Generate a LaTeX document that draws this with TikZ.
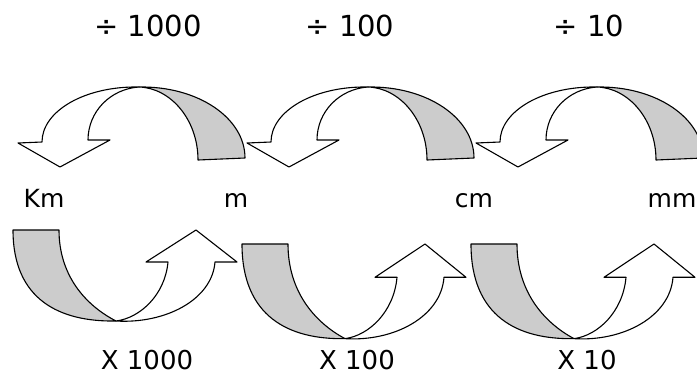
\documentclass[tikz,border=0pt]{standalone}
\usepackage{fontspec}
\setmainfont{DejaVu Sans}
\usepackage{tikz}
\usetikzlibrary{positioning}
\definecolor{bandgray}{RGB}{204,204,204}

\tikzset{
  backband/.style={fill=bandgray, draw=black, line width=1.1pt, line join=round},
  frontband/.style={fill=white, draw=black, line width=1.1pt, line join=round},
  divlabel/.style={anchor=base, font=\fontsize{29}{34}\selectfont},
  unitlabel/.style={anchor=base, font=\fontsize{25}{30}\selectfont},
  mullabel/.style={anchor=base, font=\fontsize{26}{31}\selectfont}
}

\begin{document}
\begin{tikzpicture}[x=1pt, y=-1pt]
    \clip (0,0) rectangle (697,378);

    % dividing arrows, pointing left
    \foreach \dx in {0,229,458} {
        \begin{scope}[shift={(\dx,0)}]
            \draw[backband] (198,160) -- (245,158) .. controls (245,118) and (198,86) .. (139,87)
                .. controls (171,88) and (198,120) .. (198,160) -- cycle;
            \draw[frontband] (139,87) .. controls (85,86) and (42,111) .. (42,142) -- (18,143)
                -- (60,167) -- (110,140) -- (88,140) .. controls (88,112) and (110,89) .. (139,87) -- cycle;
        \end{scope}
    }

    % multiplying arrows, pointing right
    \foreach \dx/\dy/\s in {0/230/1,229/244/1.04,458/244/1.04} {
        \begin{scope}[shift={(\dx,\dy)}, yscale=\s]
            \draw[backband] (13,0) -- (59,0) .. controls (59,45) and (85,75) .. (116,91)
                .. controls (60,92) and (13,70) .. (13,0) -- cycle;
            \draw[frontband] (116,91) .. controls (165,94) and (212,70) .. (215,32) -- (237,32)
                -- (196,0) -- (146,32) -- (168,32) .. controls (165,65) and (140,88) .. (116,91) -- cycle;
        \end{scope}
    }

    \node[divlabel] (divkm) at (148,36) {÷ 1000};
    \node[divlabel] (divm)  at (350,36) {÷ 100};
    \node[divlabel] (divcm) at (589,36) {÷ 10};

    \node[unitlabel] (km) at (44,207)  {Km};
    \node[unitlabel] (m)  at (236,207) {m};
    \node[unitlabel] (cm) at (474,207) {cm};
    \node[unitlabel] (mm) at (672,207) {mm};

    \node[mullabel] (mulkm) at (147,369) {X 1000};
    \node[mullabel] (mulm)  at (357,369) {X 100};
    \node[mullabel] (mulcm) at (587,369) {X 10};
\end{tikzpicture}
\end{document}
